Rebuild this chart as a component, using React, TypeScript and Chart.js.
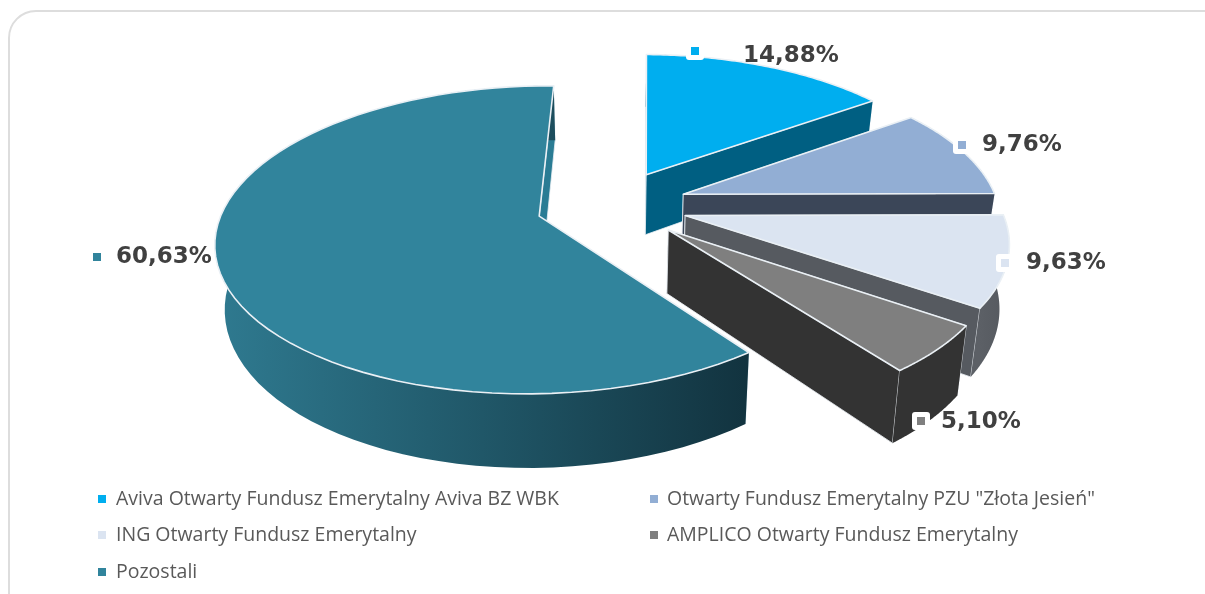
import React, { useEffect, useRef } from "react";
import { Chart, registerables } from "chart.js";

Chart.register(...registerables);

const categories = [
  "Aviva Otwarty Fundusz Emerytalny Aviva BZ WBK",
  'Otwarty Fundusz Emerytalny PZU "Złota Jesień"',
  "ING Otwarty Fundusz Emerytalny",
  "AMPLICO Otwarty Fundusz Emerytalny",
  "Pozostali",
];
const shares = [14.88, 9.76, 9.63, 5.1, 60.63];
const shareLabels = ["14,88%", "9,76%", "9,63%", "5,10%", "60,63%"];
const faceColors = ["#00AEEF", "#92AED4", "#DBE4F1", "#7F7F7F", "#31849C"];
const sideColors = ["#005F82", "#3B4658", "#565A60", "#333333", "#2A7C94"];
const rimColorsFrom = ["#005F82", "#3B4658", "#5C6066", "#333333", "#2F7A90"];
const rimColorsTo = ["#005F82", "#3B4658", "#54585E", "#333333", "#12333F"];

// Where the value labels and their keys sit: [key x, key y, text x, text y]
const labelSpots = [
  [695, 51, 743, 56],
  [962, 145, 982, 145],
  [1005, 263, 1026, 263],
  [921, 421, 941, 422],
  [97, 257, 116, 257],
];
// Legend grid: [key x, text x, row y]
const legendSpots = [
  [98, 116, 499],
  [650, 667, 499],
  [98, 116, 535],
  [650, 667, 535],
  [98, 116, 572],
];

const RX = 315;
const RY = 147;
const PERSP = 0.152;
const DEPTH = 62;
const SHRINK = 0.025;
const STEPS = 72;

function project(arc: any, u: number, v: number, h: number) {
  const s = 1 / (1 - PERSP * v);
  return {
    x: arc.x + s * u * RX * (1 - SHRINK * h),
    y: arc.y + s * (RY * v + DEPTH * h),
  };
}

function slicePoint(arc: any, angle: number, onRim: boolean, h: number) {
  const mid = (arc.startAngle + arc.endAngle) / 2;
  const e = (arc.options.offset || 0) / arc.outerRadius;
  const r = onRim ? 1 : 0;
  return project(arc, r * Math.cos(angle) + e * Math.cos(mid), r * Math.sin(angle) + e * Math.sin(mid), h);
}

function poly(ctx: CanvasRenderingContext2D, pts: { x: number; y: number }[]) {
  ctx.beginPath();
  pts.forEach((p, i) => (i ? ctx.lineTo(p.x, p.y) : ctx.moveTo(p.x, p.y)));
  ctx.closePath();
}

function rimPts(arc: any, h: number) {
  const out = [];
  for (let k = 0; k <= STEPS; k++) {
    const a = arc.startAngle + ((arc.endAngle - arc.startAngle) * k) / STEPS;
    out.push(slicePoint(arc, a, true, h));
  }
  return out;
}

const pie3d = {
  id: "pie3d",
  beforeDatasetDraw(chart: any, args: any) {
    const ctx: CanvasRenderingContext2D = chart.ctx;
    const arcs: any[] = args.meta.data;
    const order = [0, 1, 2, 3, 4];
    ctx.save();
    ctx.lineJoin = "round";
    for (const i of order) {
      const arc = arcs[i];
      const tipT = slicePoint(arc, arc.startAngle, false, 0);
      const tipB = slicePoint(arc, arc.startAngle, false, 1);
      const top = rimPts(arc, 0);
      const bot = rimPts(arc, 1);

      // radial walls
      for (const [t, b] of [
        [top[0], bot[0]],
        [top[STEPS], bot[STEPS]],
      ]) {
        poly(ctx, [tipT, t, b, tipB]);
        ctx.fillStyle = sideColors[i];
        ctx.fill();
        ctx.strokeStyle = "rgba(235,240,245,0.8)";
        ctx.lineWidth = 1;
        ctx.stroke();
      }

      // rim wall, one quad per step so that the hidden part stays under the face
      const xs = top.map((p) => p.x);
      const g = ctx.createLinearGradient(Math.min(...xs), 0, Math.max(...xs), 0);
      if (i === 4) {
        g.addColorStop(0, rimColorsFrom[i]);
        g.addColorStop(0.5, "#205768");
        g.addColorStop(1, rimColorsTo[i]);
      } else {
        g.addColorStop(0, rimColorsFrom[i]);
        g.addColorStop(1, rimColorsTo[i]);
      }
      poly(ctx, [...top, ...bot.slice().reverse()]);
      ctx.fillStyle = g;
      ctx.fill();

      // face
      poly(ctx, [tipT, ...top]);
      ctx.fillStyle = faceColors[i];
      ctx.fill();
      ctx.strokeStyle = "#EAF0F5";
      ctx.lineWidth = 1.6;
      ctx.stroke();
    }
    ctx.restore();
    return false;
  },
  afterDatasetsDraw(chart: any) {
    const ctx: CanvasRenderingContext2D = chart.ctx;
    ctx.save();
    ctx.textBaseline = "middle";
    ctx.textAlign = "left";
    shareLabels.forEach((txt, i) => {
      const [kx, ky, tx, ty] = labelSpots[i];
      ctx.fillStyle = "#FFFFFF";
      ctx.beginPath();
      (ctx as any).roundRect(kx - 9, ky - 9, 18, 18, 3);
      ctx.fill();
      ctx.fillStyle = faceColors[i];
      ctx.fillRect(kx - 4, ky - 4, 8, 8);
      ctx.fillStyle = "#404040";
      ctx.font = 'bold 23px "DejaVu Sans"';
      ctx.fillText(txt, tx, ty);
    });
    categories.forEach((name, i) => {
      const [kx, tx, y] = legendSpots[i];
      ctx.fillStyle = faceColors[i];
      ctx.fillRect(kx, y - 4, 8, 8);
      ctx.fillStyle = "#595959";
      ctx.font = '19.5px "Open Sans"';
      ctx.fillText(name, tx, y);
    });
    ctx.restore();
  },
};

export default function App() {
  const ref = useRef<HTMLCanvasElement>(null);
  useEffect(() => {
    const chart = new Chart(ref.current!, {
      type: "pie",
      data: {
        labels: categories,
        datasets: [
          {
            data: shares,
            backgroundColor: faceColors,
            borderWidth: 0,
            offset: 44,
          },
        ],
      },
      options: {
        animation: false,
        responsive: false,
        rotation: 1,
        layout: { padding: { left: 19, right: 0, top: 0, bottom: 184 } },
        plugins: { legend: { display: false }, tooltip: { enabled: false } },
      },
      plugins: [pie3d],
    } as any);
    return () => chart.destroy();
  }, []);
  return (
    <div style={{ position: "fixed", left: 0, top: 0, width: 1205, height: 594, overflow: "hidden", background: "#fff" }}>
      <div
        style={{
          position: "absolute",
          left: 8,
          top: 10,
          width: 1240,
          height: 620,
          boxSizing: "border-box",
          border: "2px solid #DDDDDD",
          borderRadius: 28,
        }}
      />
      <canvas ref={ref} width={1205} height={594} style={{ position: "absolute", left: 0, top: 0, display: "block" }} />
    </div>
  );
}
